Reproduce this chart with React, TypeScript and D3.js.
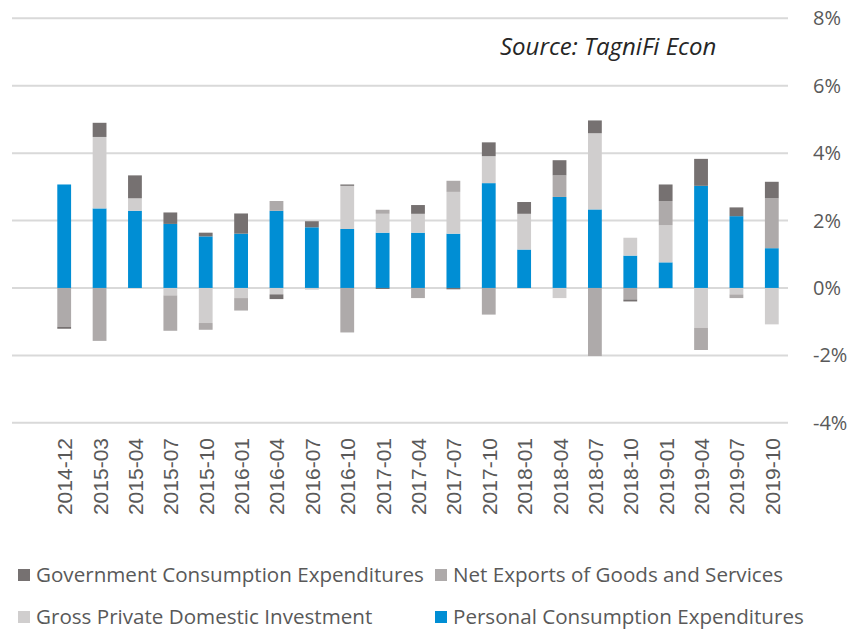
import React from "react";
import * as d3 from "d3";

const dates = ["2014-12","2015-03","2015-04","2015-07","2015-10","2016-01","2016-04","2016-07","2016-10","2017-01","2017-04","2017-07","2017-10","2018-01","2018-04","2018-07","2018-10","2019-01","2019-04","2019-07","2019-10"];
const pce = [3.07, 2.36, 2.29, 1.90, 1.53, 1.61, 2.29, 1.80, 1.75, 1.64, 1.64, 1.61, 3.11, 1.14, 2.70, 2.33, 0.96, 0.76, 3.03, 2.13, 1.18];
const gpdi = [0, 2.12, 0.37, -0.22, -1.04, -0.30, -0.19, -0.05, 1.28, 0.56, 0.56, 1.24, 0.80, 1.06, -0.30, 2.26, 0.53, 1.10, -1.18, -0.19, -1.08];
const netExports = [-1.15, -1.57, 0, -1.05, -0.20, -0.37, 0.29, 0, -1.32, 0.12, -0.30, 0.33, -0.79, 0, 0.64, -2.02, -0.34, 0.72, -0.66, -0.11, 1.48];
const gov = [-0.06, 0.42, 0.68, 0.34, 0.11, 0.60, -0.14, 0.18, 0.04, -0.03, 0.26, -0.04, 0.41, 0.35, 0.45, 0.38, -0.06, 0.49, 0.80, 0.26, 0.49];
const yTicks = [-4, -2, 0, 2, 4, 6, 8];

const seriesKeys = ["pce", "gpdi", "net", "gov"];
const colors: Record<string, string> = { pce: "#008ED4", gpdi: "#D0CECE", net: "#AEAAAA", gov: "#767171" };

export default function App() {
  const rows = dates.map((d, i) => ({ date: d, pce: pce[i], gpdi: gpdi[i], net: netExports[i], gov: gov[i] }));
  const stack = d3.stack<any>().keys(seriesKeys).offset(d3.stackOffsetDiverging);
  const layers = stack(rows);
  const x = d3.scaleBand<string>().domain(dates).range([46.5, 789.5]).paddingInner(0.61).paddingOuter(0.305);
  const y = d3.scaleLinear().domain([-4, 8]).range([422.8, 18.3]);
  const font = "'Open Sans', sans-serif";
  const legend = [
    { key: "gov", label: "Government Consumption Expenditures", x: 18, y: 575 },
    { key: "net", label: "Net Exports of Goods and Services", x: 435, y: 575 },
    { key: "gpdi", label: "Gross Private Domestic Investment", x: 18, y: 617 },
    { key: "pce", label: "Personal Consumption Expenditures", x: 435, y: 617 },
  ];
  return (
    <svg width={850} height={631} style={{ position: "absolute", left: 0, top: 0, background: "#fff" }}>
      <rect width={850} height={631} fill="#fff" />
      {yTicks.map((t) => (
        <g key={t}>
          <line x1={12} x2={788} y1={y(t)} y2={y(t)} stroke="#D9D9D9" strokeWidth={2} />
          <text x={813} y={y(t) + 7} fontFamily={font} fontSize={20} fill="#595959">{`${t}%`}</text>
        </g>
      ))}
      {layers.map((layer) => (
        <g key={layer.key} fill={colors[layer.key]}>
          {layer.map((seg, i) => {
            const y0 = y(seg[0]);
            const y1 = y(seg[1]);
            const h = Math.abs(y0 - y1);
            if (h < 0.01) return null;
            return <rect key={i} x={x(dates[i])} y={Math.min(y0, y1)} width={x.bandwidth()} height={h} />;
          })}
        </g>
      ))}
      {dates.map((d) => (
        <text key={d} transform={`translate(${(x(d) as number) + x.bandwidth() / 2 + 8},438) rotate(-90)`} textAnchor="end"
          fontFamily="'Liberation Sans', Arial, sans-serif" fontSize={21} fill="#595959">{d}</text>
      ))}
      <text x={500} y={55} fontFamily={font} fontStyle="italic" fontSize={24} fill="#262626">Source: TagniFi Econ</text>
      {legend.map((l) => (
        <g key={l.key}>
          <rect x={l.x} y={l.y - 6} width={12} height={12} fill={colors[l.key]} />
          <text x={l.x + 18} y={l.y + 7} fontFamily={font} fontSize={20.6} fill="#595959">{l.label}</text>
        </g>
      ))}
    </svg>
  );
}
